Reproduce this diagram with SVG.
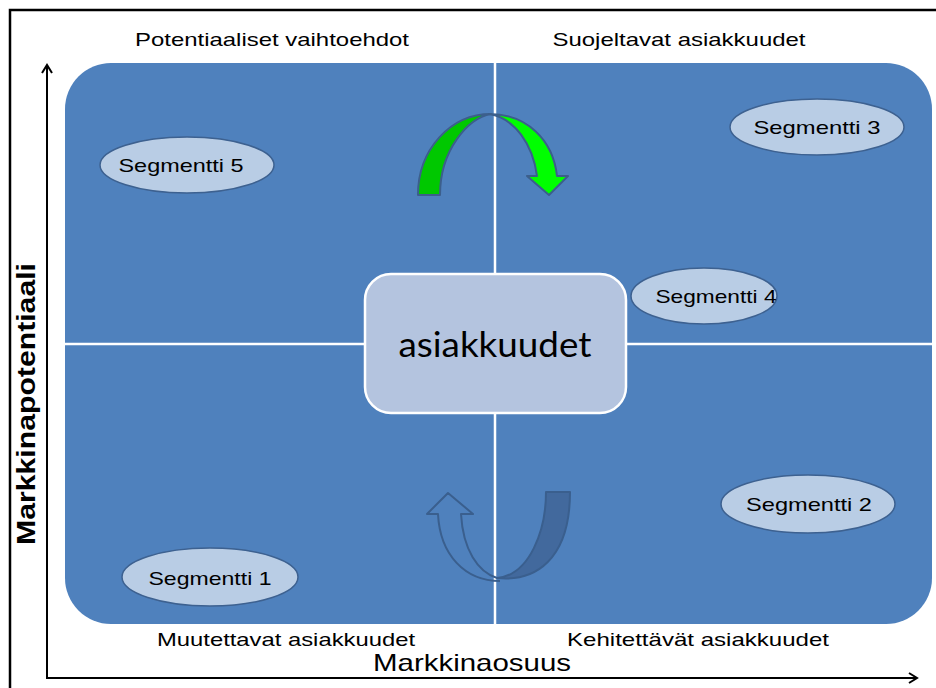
<svg xmlns="http://www.w3.org/2000/svg" width="936" height="688" viewBox="0 0 936 688">
  <defs>
    <style>
      .lbl { font-family: "Liberation Sans", Arial, sans-serif; font-size: 18.5px; fill: #000; }
      .seg { fill: #B9CDE5; stroke: #3D6190; stroke-width: 1.5; }
      .axis { stroke: #000; stroke-width: 2; fill: none; }
      .divider { stroke: #FFFFFF; stroke-width: 2.5; }
    </style>
    <marker id="openArrow" viewBox="0 0 12 12" refX="10" refY="6" markerWidth="12" markerHeight="12" markerUnits="userSpaceOnUse" orient="auto">
      <path d="M2,1 L10,6 L2,11" fill="none" stroke="#000" stroke-width="2"/>
    </marker>
  </defs>

  <!-- outer frame -->
  <path d="M10,688 L10,10 L936,10" fill="none" stroke="#000" stroke-width="2.5"/>

  <!-- quadrant background -->
  <g id="matrix">
    <rect x="65" y="63" width="867" height="561" rx="46" ry="46" fill="#4F81BD"/>
  </g>

  <g id="connectors">
    <!-- quadrant dividers -->
    <line class="divider" x1="495" y1="63" x2="495" y2="624"/>
    <line class="divider" x1="65" y1="344" x2="932" y2="344"/>
    <!-- axes -->
    <line class="axis" x1="47" y1="679" x2="47" y2="65" marker-end="url(#openArrow)"/>
    <line class="axis" x1="46" y1="678" x2="917" y2="678" marker-end="url(#openArrow)"/>
  </g>

  <!-- upper curved arrow -->
  <g id="arrow-top" stroke="#3C5F8C" stroke-width="2" stroke-linejoin="round">
    <path d="M418,195 C418,150 450,114 491,114 C468,118 440,150 440,195 Z" fill="#00C800"/>
    <path d="M489,114 C527,114 553,140 557,176 L568,176 L549,195 L527,176 L537,176 C533,145 515,118 489,114 Z" fill="#00FF00"/>
  </g>

  <!-- lower curved arrow -->
  <g id="arrow-bottom" stroke="#3A5F8E" stroke-width="2" stroke-linejoin="round">
    <path d="M570,492 L546,492 C546,530 530,575 497,578 C535,582 570,560 570,492 Z" fill="#42699D"/>
    <path d="M500,581 C465,581 440,555 438,514 L427,514 L448,493 L473,514 L461,514 C463,550 478,572 497,578" fill="none"/>
  </g>

  <!-- centre node -->
  <g id="node-center">
    <rect x="365" y="274" width="261" height="139" rx="26" ry="26" fill="#B4C4DF" stroke="#FFFFFF" stroke-width="2.5"/>
    <text x="495" y="357" text-anchor="middle" font-family="Lato, 'Open Sans', sans-serif" font-size="35" textLength="193" lengthAdjust="spacingAndGlyphs">asiakkuudet</text>
  </g>

  <!-- segments -->
  <g id="segment-5">
    <ellipse class="seg" cx="187" cy="165" rx="87" ry="28"/>
    <text class="lbl" x="181" y="172" text-anchor="middle" textLength="125" lengthAdjust="spacingAndGlyphs">Segmentti 5</text>
  </g>
  <g id="segment-3">
    <ellipse class="seg" cx="817" cy="127" rx="87" ry="28"/>
    <text class="lbl" x="817" y="134" text-anchor="middle" textLength="127" lengthAdjust="spacingAndGlyphs">Segmentti 3</text>
  </g>
  <g id="segment-4">
    <ellipse class="seg" cx="704" cy="296" rx="73" ry="28"/>
    <text class="lbl" x="716" y="303" text-anchor="middle" textLength="121" lengthAdjust="spacingAndGlyphs">Segmentti 4</text>
  </g>
  <g id="segment-2">
    <ellipse class="seg" cx="808" cy="504" rx="87" ry="29"/>
    <text class="lbl" x="809" y="511" text-anchor="middle" textLength="126" lengthAdjust="spacingAndGlyphs">Segmentti 2</text>
  </g>
  <g id="segment-1">
    <ellipse class="seg" cx="210" cy="577" rx="88" ry="29"/>
    <text class="lbl" x="210" y="585" text-anchor="middle" textLength="123" lengthAdjust="spacingAndGlyphs">Segmentti 1</text>
  </g>

  <!-- quadrant titles -->
  <g id="quadrant-labels">
    <text class="lbl" x="272" y="46" text-anchor="middle" textLength="274" lengthAdjust="spacingAndGlyphs">Potentiaaliset vaihtoehdot</text>
    <text class="lbl" x="679" y="46" text-anchor="middle" textLength="253" lengthAdjust="spacingAndGlyphs">Suojeltavat asiakkuudet</text>
    <text class="lbl" x="286" y="646" text-anchor="middle" textLength="258" lengthAdjust="spacingAndGlyphs">Muutettavat asiakkuudet</text>
    <text class="lbl" x="698" y="646" text-anchor="middle" textLength="262" lengthAdjust="spacingAndGlyphs">Kehitettävät asiakkuudet</text>
  </g>

  <!-- axis titles -->
  <g id="axis-labels">
    <text x="472" y="671" text-anchor="middle" font-family="'Liberation Sans', Arial, sans-serif" font-size="24" textLength="198" lengthAdjust="spacingAndGlyphs">Markkinaosuus</text>
    <text transform="translate(35,404) rotate(-90)" text-anchor="middle" font-family="'Liberation Sans', Arial, sans-serif" font-size="25" font-weight="bold" textLength="282" lengthAdjust="spacingAndGlyphs">Markkinapotentiaali</text>
  </g>
</svg>
